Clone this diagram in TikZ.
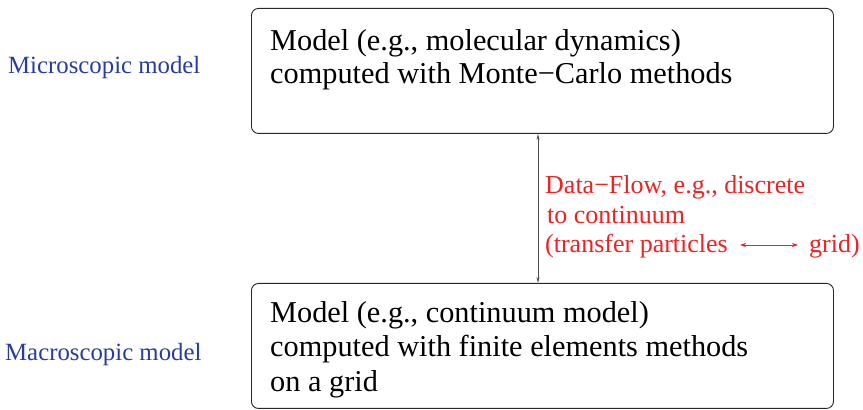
\documentclass[tikz,border=0pt]{standalone}
\usepackage{fontspec}
\setmainfont{Liberation Serif}
\usetikzlibrary{arrows.meta}
\definecolor{lblue}{RGB}{40,60,160}
\definecolor{lred}{RGB}{235,35,35}
\begin{document}
\begin{tikzpicture}[x=1pt,y=1pt,
  box/.style={draw=black!85,line width=0.9pt,rounded corners=7pt},
  btext/.style={anchor=base west,font=\fontsize{30.3}{33}\selectfont,inner sep=0pt},
  side/.style={anchor=base west,text=lblue,font=\fontsize{24.8}{28}\selectfont,inner sep=0pt},
  rtext/.style={text=lred,anchor=base west,font=\fontsize{26}{30}\selectfont,inner sep=0pt}]
\useasboundingbox (0,0) rectangle (863,410);
\node[box,minimum width=582pt,minimum height=125pt,anchor=north west] (top) at (251,402) {};
\node[box,minimum width=582pt,minimum height=125pt,anchor=north west] (bot) at (251,127) {};
\node[btext] (t1) at (270,359) {Model (e.g., molecular dynamics)};
\node[btext] (t2) at (270,326) {computed with Monte−Carlo methods};
\node[btext] (t3) at (270,87) {Model (e.g., continuum model)};
\node[btext] (t4) at (270,53) {computed with finite elements methods};
\node[btext] (t5) at (270,18) {on a grid};
\node[side] (m1) at (8,336) {Microscopic model};
\node[side] (m2) at (5,49) {Macroscopic model};
\draw[{Stealth[length=6pt,width=3pt]}-{Stealth[length=6pt,width=3pt]},black!70,line width=0.8pt] (top.south -| 538,0) -- (bot.north -| 538,0);
\node[rtext] (r1) at (545,216) {Data−Flow, e.g., discrete};
\node[rtext] (r2) at (547,186) {to continuum};
\node[rtext] (r3) at (545,157) {(transfer particles};
\node[rtext] (g) at (809,157) {grid)};
\coordinate (ra) at (740,165);
\coordinate (rb) at (798,165);
\draw[{Stealth[length=6pt,width=4pt]}-{Stealth[length=6pt,width=4pt]},lred,line width=0.7pt] (ra) -- (rb);
\end{tikzpicture}
\end{document}
